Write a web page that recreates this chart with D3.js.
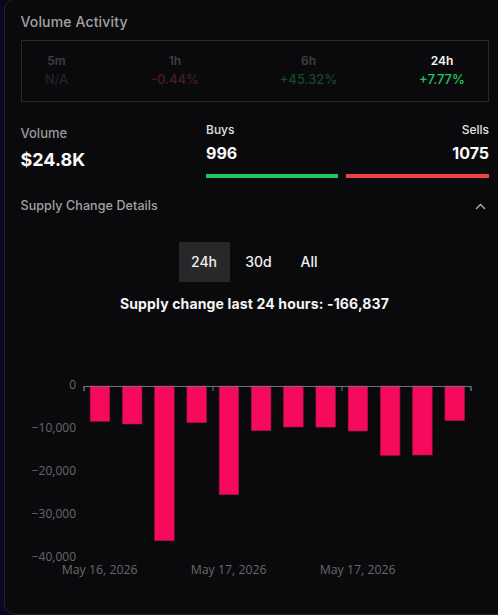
<!DOCTYPE html>
<html><head><meta charset="utf-8">
<script src="https://cdn.jsdelivr.net/npm/d3@7"></script>
<style>
html,body{margin:0;padding:0;background:#0a0a0d;overflow:hidden}
body{width:498px;height:615px}
svg{display:block}
</style></head><body><svg id="c" width="498" height="615"></svg>
<script>
const periods=["5m","1h","6h","24h"];
const periodChanges=["N/A","-0.44%","+45.32%","+7.77%"];
const volumeLabel="Volume", volumeValue="$24.8K";
const buysCount=996, sellsCount=1075;
const rangeTabs=["24h","30d","All"];
const chartTitle="Supply change last 24 hours: -166,837";
const barIndex=[0,1,2,3,4,5,6,7,8,9,10,11];
const supplyChange=[-8210,-8840,-35980,-8530,-25270,-10390,-9530,-9560,-10470,-16120,-16050,-8060];
const yTicks=[0,-10000,-20000,-30000,-40000];
const xTickIdx=[0,4,8];
const xTickLabels=["May 16, 2026","May 17, 2026","May 17, 2026"];

const UI='Inter, "Noto Sans", sans-serif', CH='"Open Sans","Noto Sans",sans-serif';
const svg=d3.select("#c");
function t(x,y,s,o={}){return svg.append("text").attr("x",x).attr("y",y).text(s)
 .attr("font-family",o.f||UI).attr("font-size",o.s||13).attr("font-weight",o.w||500)
 .attr("fill",o.c||"#fff").attr("text-anchor",o.a||"start").attr("letter-spacing",o.l||0);}

// page edge and card
svg.append("rect").attr("width",498).attr("height",615).attr("fill","#0e0524");
svg.append("rect").attr("x",4.5).attr("y",-1).attr("width",520).attr("height",615.5).attr("rx",11)
 .attr("fill","#0a0a0d").attr("stroke","#232326");

t(20.5,27,"Volume Activity",{s:14,c:"#a3a3a3",l:0.15});
svg.append("rect").attr("x",21.5).attr("y",40.5).attr("width",467).attr("height",61)
 .attr("fill","none").attr("stroke","#29292b");
const px=[56.5,175,308.5,442];
const pc=["#3f3f41","#3f3f41","#3f3f41","#f5f5f5"];
const vc=["#232325","#4a1c1f","#14482a","#22c55e"];
periods.forEach((p,i)=>{
 t(px[i],65,p,{s:12,a:"middle",c:pc[i],w:600});
 t(px[i],84,periodChanges[i],{s:13,a:"middle",c:vc[i]});
});

t(20.5,138,volumeLabel,{s:13,c:"#9a9a9a"});
t(20.5,166,volumeValue,{s:18,w:700,c:"#fafafa"});
t(206,134,"Buys",{s:12,c:"#e0e0e0"});
t(489,134,"Sells",{s:12,a:"end",c:"#e0e0e0"});
t(206,159,String(buysCount),{s:16,w:700,c:"#fafafa"});
t(489,159,String(sellsCount),{s:16,w:700,a:"end",c:"#fafafa"});
svg.append("rect").attr("x",206).attr("y",174).attr("height",4).attr("width",132).attr("fill","#22c55e");
svg.append("rect").attr("x",346).attr("y",174).attr("height",4).attr("width",143).attr("fill","#ef4444");

t(20.5,210,"Supply Change Details",{s:12.5,c:"#a3a3a3",l:0.1});
svg.append("path").attr("d","M476 209 L480.5 204.5 L485 209").attr("fill","none").attr("stroke","#b0b0b0").attr("stroke-width",1.3);

svg.append("rect").attr("x",179).attr("y",242).attr("width",51).attr("height",40).attr("fill","#28282a");
const tabX=[204,258.5,309];
rangeTabs.forEach((r,i)=>t(tabX[i],267,r,{s:14,a:"middle",c:"#f0f0f0"}));
t(254.5,309,chartTitle,{s:14,w:700,a:"middle",c:"#f5f5f5",l:0.15});

// chart
const x=d3.scaleBand().domain(barIndex).range([83.5,470.5]).paddingInner(0.395).paddingOuter(0.1975);
const y=d3.scaleLinear().domain([0,-40000]).range([386,558]);
const edge=d3.scaleLinear().domain([0,12]).range([83.5,470.5]);

svg.append("g").selectAll("rect").data(supplyChange).join("rect")
 .attr("x",(d,i)=>x(barIndex[i])+0.3).attr("width",x.bandwidth())
 .attr("y",y(0)).attr("height",d=>y(d)-y(0))
 .attr("fill","#f50a5c").attr("stroke","#a90f46").attr("stroke-width",0.6);

const zeroAxis=svg.append("g").attr("transform","translate(0,386)")
 .call(d3.axisBottom(edge).tickValues([0,4,8,12]).tickSize(5).tickFormat(""));
zeroAxis.select(".domain").attr("stroke","#6b7280");
zeroAxis.selectAll("line").attr("stroke","#6b7280");

const yAxis=svg.append("g").attr("transform","translate(83.5,0)")
 .call(d3.axisLeft(y).tickValues(yTicks).tickSize(0).tickPadding(7.5).tickFormat(d3.format(",")));
yAxis.select(".domain").remove();
yAxis.selectAll("text").attr("font-family",CH).attr("font-size",12).attr("fill","#68686b").attr("dy","0.18em");

const xAxis=svg.append("g").attr("transform","translate(0,558)")
 .call(d3.axisBottom(x).tickValues(xTickIdx).tickSize(0).tickPadding(7)
   .tickFormat(d=>xTickLabels[xTickIdx.indexOf(d)]));
xAxis.select(".domain").remove();
xAxis.selectAll("text").attr("font-family",CH).attr("font-size",12.3).attr("fill","#68686b");
</script></body></html>
